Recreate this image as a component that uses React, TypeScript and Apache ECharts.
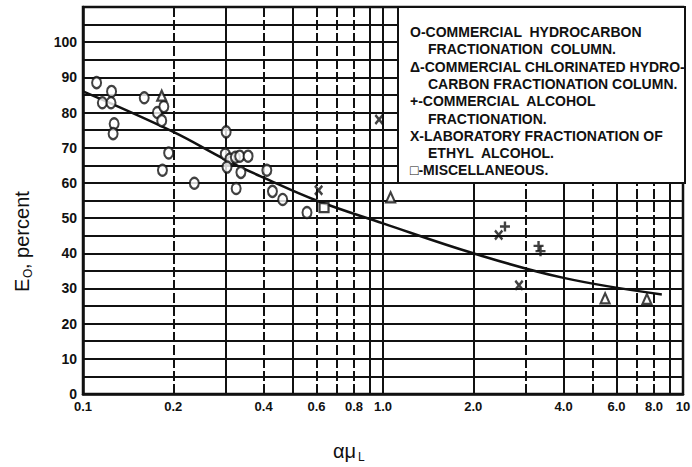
import React, { useEffect, useRef } from "react";
import * as echarts from "echarts";

// ---- data ----
const circles: [number, number][] = [
  [0.111, 88.5], [0.116, 82.8], [0.1245, 86], [0.124, 82.8], [0.127, 76.8], [0.126, 74],
  [0.16, 84.2], [0.177, 80], [0.186, 81.7], [0.183, 77.7], [0.184, 63.6], [0.193, 68.5],
  [0.235, 59.9], [0.3, 74.5], [0.298, 68.2], [0.309, 66.8], [0.322, 67.3], [0.333, 67.6],
  [0.355, 67.6], [0.302, 64.5], [0.336, 63], [0.324, 58.4], [0.41, 63.6], [0.428, 57.6],
  [0.463, 55.3], [0.558, 51.6],
];
const triangles: [number, number][] = [[0.183, 84.8], [1.06, 55.9], [5.5, 27.2], [7.58, 27]];
const pluses: [number, number][] = [[2.55, 47.6], [3.3, 42.1], [3.35, 40.6]];
const crosses: [number, number][] = [[0.61, 57.9], [0.97, 78], [2.43, 45.2], [2.84, 30.9]];
const squares: [number, number][] = [[0.636, 53]];
const curve: [number, number][] = [
  [0.1, 86], [0.2, 74.5], [0.3, 66.5], [0.4, 61.5], [0.6, 55], [1.0, 48.5],
  [2.0, 40], [4.0, 33], [8.5, 28.3],
];
const gridX = [0.1, 0.2, 0.3, 0.4, 0.5, 0.6, 0.7, 0.8, 0.9, 1, 2, 3, 4, 5, 6, 7, 8, 9, 10];
const dashedX = [0.2, 0.4, 0.6, 0.7, 0.8, 3, 5, 7, 8];
const xTickValues = [0.1, 0.2, 0.4, 0.6, 0.8, 1, 2, 4, 6, 8, 10];
const xTickLabels = ["0.1", "0.2", "0.4", "0.6", "0.8", "1.0", "2.0", "4.0", "6.0", "8.0", "10"];
const yMax = 110;
const yLabelMax = 100;
const legendLines: { text: string; indent: boolean }[] = [
  { text: "O-COMMERCIAL  HYDROCARBON", indent: false },
  { text: "FRACTIONATION  COLUMN.", indent: true },
  { text: "Δ-COMMERCIAL CHLORINATED HYDRO-", indent: false },
  { text: "CARBON FRACTIONATION COLUMN.", indent: true },
  { text: "+-COMMERCIAL  ALCOHOL", indent: false },
  { text: "FRACTIONATION.", indent: true },
  { text: "X-LABORATORY FRACTIONATION OF", indent: false },
  { text: "ETHYL  ALCOHOL.", indent: true },
  { text: "□-MISCELLANEOUS.", indent: false },
];

const INK = "#111";
const FONT = "Liberation Sans, DejaVu Sans, sans-serif";
const plusPath = "path://M3.8,0 L6.2,0 L6.2,3.8 L10,3.8 L10,6.2 L6.2,6.2 L6.2,10 L3.8,10 L3.8,6.2 L0,6.2 L0,3.8 L3.8,3.8 Z";
const crossPath =
  "path://M0,1.8 L1.8,0 L5,3.2 L8.2,0 L10,1.8 L6.8,5 L10,8.2 L8.2,10 L5,6.8 L1.8,10 L0,8.2 L3.2,5 Z";

export default function App() {
  const ref = useRef<HTMLDivElement>(null);
  useEffect(() => {
    if (!ref.current) return;
    const chart = echarts.init(ref.current, null, { renderer: "svg" });
    const hollow = { color: "#fff", borderColor: INK, borderWidth: 2.2 };
    const markData = gridX.map((v) => {
      const idx = xTickValues.indexOf(v);
      return {
        xAxis: v,
        lineStyle: {
          color: INK,
          width: 2,
          type: dashedX.indexOf(v) >= 0 ? [10, 3] : "solid",
        },
        label: {
          show: idx >= 0,
          formatter: idx >= 0 ? xTickLabels[idx] : "",
        },
      };
    });
    const lineHeight = 17.3;
    const legendTop = 32;
    chart.setOption({
      animation: false,
      backgroundColor: "#fff",
      grid: {
        left: 83,
        right: 9,
        top: 7,
        bottom: 73,
        show: true,
        borderColor: INK,
        borderWidth: 2.5,
      },
      xAxis: {
        type: "log",
        logBase: 10,
        min: 0.1,
        max: 10,
        axisLabel: { show: false },
        axisTick: { show: false },
        splitLine: { show: false },
        axisLine: { lineStyle: { color: INK, width: 2.5 } },
      },
      yAxis: {
        type: "value",
        min: 0,
        max: yMax,
        interval: 5,
        axisTick: { show: false },
        axisLine: { lineStyle: { color: INK, width: 2.5 } },
        splitLine: { lineStyle: { color: INK, width: 2 } },
        axisLabel: {
          color: INK,
          fontFamily: FONT,
          fontWeight: "bold",
          fontSize: 14,
          margin: 6,
          formatter: (v: number) => (v % 10 === 0 && v <= yLabelMax ? String(v) : ""),
        },
      },
      series: [
        {
          type: "line",
          data: curve,
          smooth: 0.4,
          showSymbol: false,
          symbol: "none",
          lineStyle: { color: INK, width: 2.5 },
          z: 3,
          markLine: {
            silent: true,
            symbol: "none",
            z: 1,
            label: {
              position: "start",
              distance: 6,
              color: INK,
              fontFamily: FONT,
              fontWeight: "bold",
              fontSize: 13,
            },
            data: markData,
          },
        },
        { type: "scatter", data: circles, symbol: "circle", symbolSize: [9, 11], itemStyle: hollow, z: 4 },
        { type: "scatter", data: triangles, symbol: "triangle", symbolSize: [9, 10], itemStyle: hollow, z: 4 },
        { type: "scatter", data: pluses, symbol: plusPath, symbolSize: 10, itemStyle: { color: INK }, z: 4 },
        { type: "scatter", data: crosses, symbol: crossPath, symbolSize: [9, 11], itemStyle: { color: INK }, z: 4 },
        { type: "scatter", data: squares, symbol: "rect", symbolSize: 9, itemStyle: hollow, z: 4 },
      ],
      graphic: [
        {
          type: "rect",
          z: 100,
          shape: { x: 398, y: 7, width: 287, height: 176 },
          style: { fill: "#fff", stroke: INK, lineWidth: 2 },
        },
        ...legendLines.map((l, i) => ({
          type: "text",
          z: 101,
          x: l.indent ? 428 : 410,
          y: legendTop + i * lineHeight,
          style: {
            text: l.text,
            fill: INK,
            font: `bold 14px ${FONT}`,
            textVerticalAlign: "middle",
          },
        })),
        {
          type: "group",
          x: 22,
          y: 230,
          rotation: Math.PI / 2,
          children: [
            { type: "text", x: -62, y: 0, style: { text: "E", fill: INK, font: `20px ${FONT}`, textVerticalAlign: "middle" } },
            { type: "text", x: -48, y: 6, style: { text: "O", fill: INK, font: `12px ${FONT}`, textVerticalAlign: "middle" } },
            { type: "text", x: -39, y: 0, style: { text: ", percent", fill: INK, font: `20px ${FONT}`, textVerticalAlign: "middle" } },
          ],
        },
        { type: "text", x: 333, y: 451, style: { text: "αμ", fill: INK, font: `20px ${FONT}`, textVerticalAlign: "middle" } },
        { type: "text", x: 358, y: 457, style: { text: "L", fill: INK, font: `12px ${FONT}`, textVerticalAlign: "middle" } },
      ],
    });
    return () => chart.dispose();
  }, []);
  return (
    <div
      ref={ref}
      style={{ position: "fixed", left: 0, top: 0, width: 692, height: 467, background: "#fff" }}
    />
  );
}
